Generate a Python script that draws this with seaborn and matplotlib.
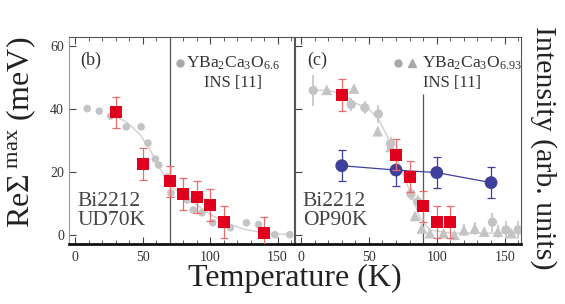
import seaborn as sns
import numpy as np
import pandas as pd
import matplotlib.pyplot as plt
from matplotlib.ticker import MultipleLocator

# ---- data: panel (b) Bi2212 UD70K ----
ud_T = [30, 50, 70, 80, 90, 100, 110, 140]
ud_sigma = [39, 22.5, 17, 13, 12, 9.5, 4, 0.5]
ud_err = [5, 5, 5, 5, 5, 5, 5, 5]

# YBCO 6.6 INS (gray circles) and guide curve
y66_T = [9, 18, 26.5, 38, 49, 54, 59.5, 62, 68.5, 71, 83, 87.5, 94, 102, 115, 127, 136, 148, 159]
y66_I = [40.2, 39.4, 37.8, 34.4, 34.4, 29.2, 24.1, 22.2, 18.4, 13.3, 11.1, 7.9, 7, 3.8, 2.2, 3.8, 3.2, 0, 0]
y66_fit_T = [28, 38, 48, 55, 63, 70, 80, 90, 100, 112, 125, 140, 160]
y66_fit_I = [38, 36, 32, 27.5, 21, 16, 12.5, 9.5, 6.5, 3.7, 1.8, 0.5, 0]

# ---- data: panel (c) Bi2212 OP90K ----
op_T = [30, 70, 80, 90, 100, 110]
op_sigma = [44.5, 25.5, 18.5, 9, 4, 4]
op_err = [5, 5, 5, 5, 5, 5]

int_T = [30, 70, 100, 140]
int_val = [22, 20.6, 19.8, 16.6]
int_err = [5, 5, 5, 5]

# YBCO 6.93 INS: circles and triangles
y693c_T = [9, 37, 47, 57, 66, 81, 86, 141, 151, 160]
y693c_I = [46, 41.5, 40.5, 38.5, 29, 13, 10.5, 4, 1.5, 1.5]
y693c_err = [5, 2, 2, 3, 2, 2, 2, 3, 3, 3]
y693t_T = [19, 39, 56.5, 66, 84, 89, 95, 105, 113, 120, 128, 135, 145, 155]
y693t_I = [46.2, 46.6, 33, 28, 6, 2, 0.5, 0.5, 0, 1.5, 2, 1, 1, 0.5]
y693t_err = [1, 1, 1, 1, 1, 1, 1, 1, 1, 2, 2, 1, 2, 1]
y693_fit_T = [10, 20, 30, 40, 50, 57, 65, 72, 80, 88, 95, 110, 130, 160]
y693_fit_I = [46, 46, 45, 42, 40, 37, 30, 23, 14, 5, 1.5, 0.5, 0.5, 0.5]

x_ticks = [0, 50, 100, 150]
y_ticks = [0, 20, 40, 60]

RED = '#e0001e'
RED_ERR = '#f06a6a'
BLUE = '#3f3f9c'
GRAY = '#c4c4c4'
GRAY_DARK = '#a8a8a8'
LINE = '#555555'

sns.set_style('ticks')
plt.rcParams['font.family'] = ['Liberation Serif', 'DejaVu Serif']
plt.rcParams['mathtext.fontset'] = 'custom'
plt.rcParams['mathtext.rm'] = 'Liberation Serif'
plt.rcParams['mathtext.it'] = 'Liberation Serif:italic'

fig = plt.figure(figsize=(5.65, 3.04), dpi=100)
ax_b = fig.add_axes([0.122, 0.197, 0.398, 0.681])
ax_c = fig.add_axes([0.522, 0.197, 0.400, 0.681])

for ax in (ax_b, ax_c):
    ax.set_xlim(-4.5, 162)
    ax.set_ylim(-3, 63)
    ax.xaxis.set_major_locator(MultipleLocator(50))
    ax.xaxis.set_minor_locator(MultipleLocator(10))
    ax.set_xticks(x_ticks)
    ax.set_yticks(y_ticks)
    ax.tick_params(axis='x', which='both', direction='in', top=True, bottom=True,
                   labelsize=10, labelcolor='#333333', color='#444444', pad=5)
    ax.tick_params(axis='x', which='major', length=5, width=0.8)
    ax.tick_params(axis='x', which='minor', length=3, width=0.6)
    ax.tick_params(axis='y', which='major', direction='in', left=True, right=False,
                   length=5, width=0.8, labelsize=10, labelcolor='#333333', color='#444444')
    for side in ('top', 'right', 'left'):
        ax.spines[side].set_linewidth(0.8)
        ax.spines[side].set_color('#555555')
    ax.spines['bottom'].set_linewidth(2.0)
    ax.spines['bottom'].set_color('#111111')

ax_b.spines['left'].set_color('#999999')
ax_c.tick_params(axis='y', labelleft=False)

# ---- panel (b) ----
ax_b.axvline(70, color=LINE, lw=0.9, zorder=1)
sns.lineplot(x=y66_fit_T, y=y66_fit_I, ax=ax_b, color='#d0d0d0', lw=1.0,
             sort=False, estimator=None, zorder=2)
sns.scatterplot(x=y66_T, y=y66_I, ax=ax_b, color=GRAY, s=30, edgecolor='none', zorder=3)
ax_b.errorbar(ud_T, ud_sigma, yerr=ud_err, fmt='none', ecolor=RED_ERR, elinewidth=0.9,
              capsize=3, capthick=0.9, zorder=4)
sns.scatterplot(x=ud_T, y=ud_sigma, ax=ax_b, marker='s', color=RED, s=75,
                edgecolor='none', zorder=5)

ax_b.text(0.049, 0.889, '(b)', transform=ax_b.transAxes, fontsize=13, color='#333333',
          ha='left', va='center')
ax_b.plot([0.493], [0.874], 'o', color=GRAY_DARK, ms=5, transform=ax_b.transAxes, clip_on=False)
ax_b.text(0.522, 0.874, r'YBa$_2$Ca$_3$O$_{6.6}$', transform=ax_b.transAxes, fontsize=12.5,
          color='#333333', ha='left', va='center')
ax_b.text(0.729, 0.778, 'INS [11]', transform=ax_b.transAxes, fontsize=12,
          color='#333333', ha='center', va='center')
ax_b.text(0.04, 0.16, 'Bi2212\nUD70K', transform=ax_b.transAxes, fontsize=15.5,
          color='#444444', ha='left', va='center', linespacing=1.0)

# ---- panel (c) ----
ax_c.vlines(90, -3, 45, color=LINE, lw=0.9, zorder=1)
sns.lineplot(x=y693_fit_T, y=y693_fit_I, ax=ax_c, color='#d0d0d0', lw=1.0,
             sort=False, estimator=None, zorder=2)
ax_c.errorbar(y693c_T, y693c_I, yerr=y693c_err, fmt='none', ecolor=GRAY, elinewidth=1.2, zorder=2)
ax_c.errorbar(y693t_T, y693t_I, yerr=y693t_err, fmt='none', ecolor=GRAY, elinewidth=1.2, zorder=2)
sns.scatterplot(x=y693c_T, y=y693c_I, ax=ax_c, color=GRAY, s=45, edgecolor='none', zorder=3)
sns.scatterplot(x=y693t_T, y=y693t_I, ax=ax_c, marker='^', color=GRAY, s=60,
                edgecolor='none', zorder=3)
ax_c.errorbar(int_T, int_val, yerr=int_err, fmt='none', ecolor=BLUE, elinewidth=0.9,
              capsize=3, capthick=0.9, zorder=4)
sns.lineplot(x=int_T, y=int_val, ax=ax_c, color=BLUE, lw=0.9, sort=False,
             estimator=None, zorder=4)
sns.scatterplot(x=int_T, y=int_val, ax=ax_c, color=BLUE, s=85, edgecolor='none', zorder=5)
ax_c.errorbar(op_T, op_sigma, yerr=op_err, fmt='none', ecolor=RED_ERR, elinewidth=0.9,
              capsize=3, capthick=0.9, zorder=6)
sns.scatterplot(x=op_T, y=op_sigma, ax=ax_c, marker='s', color=RED, s=75,
                edgecolor='none', zorder=7)

ax_c.text(0.053, 0.889, '(c)', transform=ax_c.transAxes, fontsize=13, color='#333333',
          ha='left', va='center')
ax_c.plot([0.456], [0.874], 'o', color=GRAY_DARK, ms=5, transform=ax_c.transAxes, clip_on=False)
ax_c.plot([0.518], [0.874], '^', color=GRAY_DARK, ms=5.5, transform=ax_c.transAxes, clip_on=False)
ax_c.text(0.562, 0.874, r'YBa$_2$Ca$_3$O$_{6.93}$', transform=ax_c.transAxes, fontsize=12.5,
          color='#333333', ha='left', va='center')
ax_c.text(0.695, 0.778, 'INS [11]', transform=ax_c.transAxes, fontsize=12,
          color='#333333', ha='center', va='center')
ax_c.text(0.035, 0.16, 'Bi2212\nOP90K', transform=ax_c.transAxes, fontsize=15.5,
          color='#444444', ha='left', va='center', linespacing=1.0)

for ax in (ax_b, ax_c):
    ax.set_xlabel('')
    ax.set_ylabel('')

fig.text(0.522, 0.085, 'Temperature (K)', fontsize=23, color='#222222', ha='center', va='center')
fig.text(0.038, 0.565, r'Re$\Sigma^{\ \mathrm{max}}$ (meV)', fontsize=23, color='#222222',
         rotation=90, ha='center', va='center')
fig.text(0.962, 0.513, 'Intensity (arb. units)', fontsize=21.5, color='#222222',
         rotation=-90, ha='center', va='center')

fig.savefig('out.png', dpi=100)
